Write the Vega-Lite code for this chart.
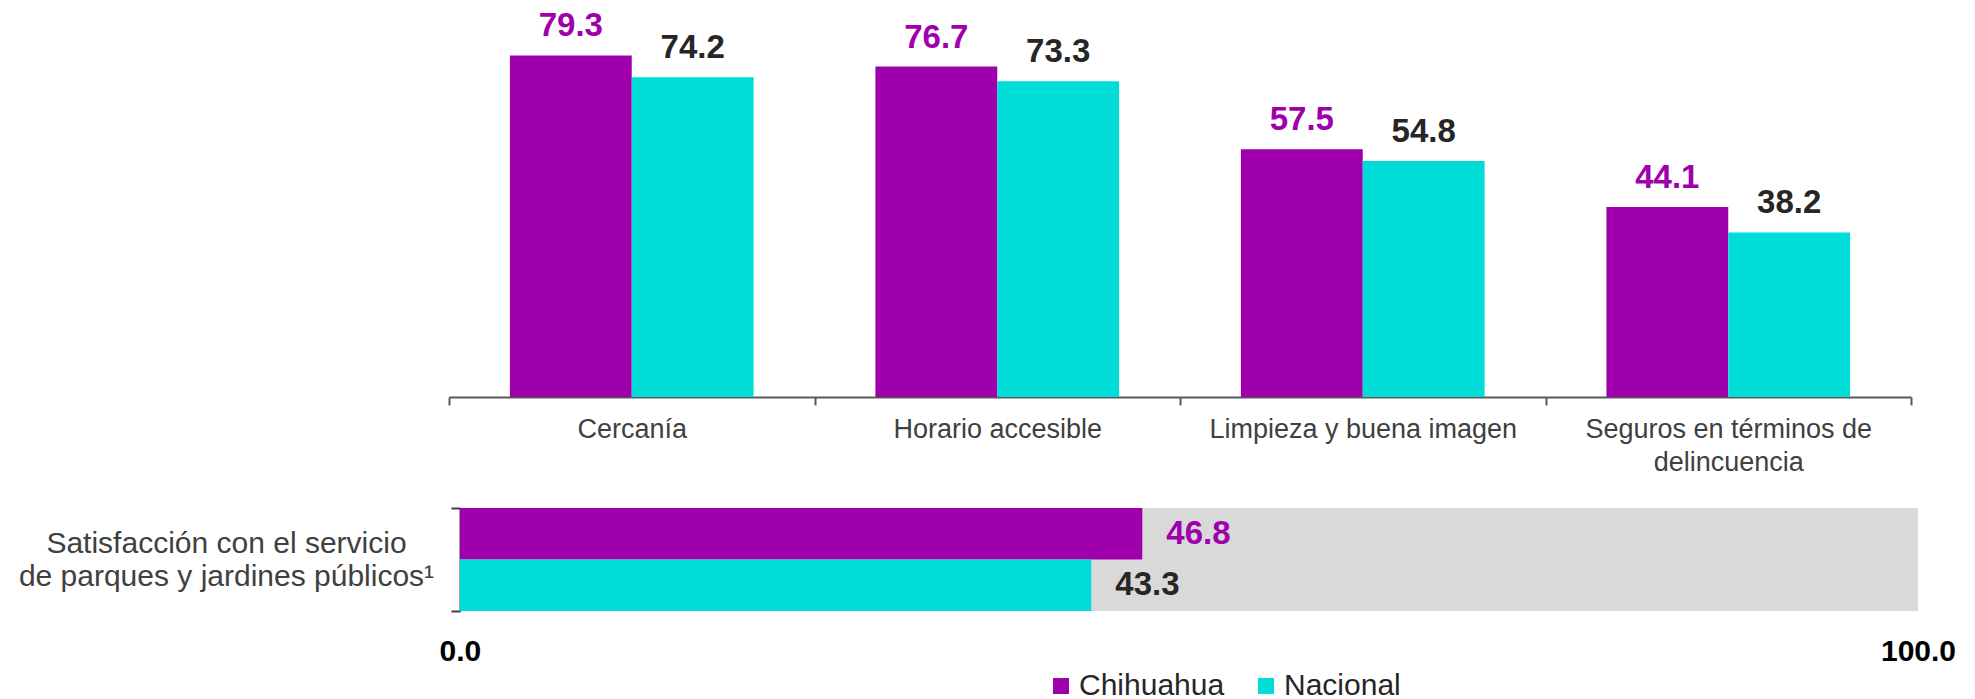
{
  "$schema": "https://vega.github.io/schema/vega-lite/v6.json",
  "padding": {"left": 18, "top": 5, "right": 5, "bottom": 0},
  "background": "white",
  "config": {"view": {"stroke": null}, "font": "Liberation Sans", "axis": {"grid": false}},
  "spacing": 32,
  "datasets": {
    "atributos": [
      {"atributo": "Cercanía", "serie": "Chihuahua", "valor": 79.3},
      {"atributo": "Cercanía", "serie": "Nacional", "valor": 74.2},
      {"atributo": "Horario accesible", "serie": "Chihuahua", "valor": 76.7},
      {"atributo": "Horario accesible", "serie": "Nacional", "valor": 73.3},
      {"atributo": "Limpieza y buena imagen", "serie": "Chihuahua", "valor": 57.5},
      {"atributo": "Limpieza y buena imagen", "serie": "Nacional", "valor": 54.8},
      {"atributo": "Seguros en términos de delincuencia", "serie": "Chihuahua", "valor": 44.1},
      {"atributo": "Seguros en términos de delincuencia", "serie": "Nacional", "valor": 38.2}
    ],
    "satisfaccion": [
      {"servicio": "Parques y jardines", "serie": "Chihuahua", "valor": 46.8},
      {"servicio": "Parques y jardines", "serie": "Nacional", "valor": 43.3}
    ],
    "fondo": [
      {"servicio": "Parques y jardines", "total": 100}
    ]
  },
  "vconcat": [
    {
      "width": 1462,
      "height": 392,
      "data": {"name": "atributos"},
      "encoding": {
        "x": {
          "field": "atributo", "type": "nominal",
          "sort": ["Cercanía", "Horario accesible", "Limpieza y buena imagen", "Seguros en términos de delincuencia"],
          "scale": {"paddingInner": 0, "paddingOuter": 0},
          "axis": {
            "title": null, "tickBand": "extent", "tickSize": 8, "tickColor": "#595959", "tickWidth": 2,
            "domainColor": "#595959", "domainWidth": 2, "labelAngle": 0, "labelFontSize": 27,
            "labelColor": "#404040", "labelPadding": 11, "labelLineHeight": 33, "labelLimit": 500,
            "labelExpr": "datum.value == 'Seguros en términos de delincuencia' ? ['Seguros en términos de', 'delincuencia'] : datum.value"
          }
        },
        "xOffset": {"field": "serie", "type": "nominal", "sort": ["Chihuahua", "Nacional"], "scale": {"paddingInner": 0, "paddingOuter": 0.5}},
        "y": {"field": "valor", "type": "quantitative", "scale": {"domain": [0, 91]}, "axis": null}
      },
      "layer": [
        {
          "mark": {"type": "bar"},
          "encoding": {
            "color": {
              "field": "serie", "type": "nominal",
              "scale": {"domain": ["Chihuahua", "Nacional"], "range": ["#A000AB", "#00DDD8"]},
              "legend": {
                "orient": "none", "legendX": 597, "legendY": 666, "direction": "horizontal", "title": null,
                "symbolType": "square", "symbolSize": 256, "symbolStrokeWidth": 0, "labelFontSize": 30,
                "labelColor": "#262626", "columnPadding": 26, "labelOffset": 3
              }
            }
          }
        },
        {
          "mark": {"type": "text", "dy": -19, "baseline": "alphabetic", "fontSize": 33, "fontWeight": "bold"},
          "encoding": {
            "text": {"field": "valor", "type": "quantitative", "format": ".1f"},
            "color": {"condition": {"test": "datum.serie == 'Chihuahua'", "value": "#A000AB"}, "value": "#262626"}
          }
        }
      ]
    },
    {
      "width": 1469,
      "height": 103,
      "layer": [
        {
          "data": {"name": "fondo"},
          "mark": {"type": "bar", "color": "#D9D9D9"},
          "encoding": {
            "y": {
              "field": "servicio", "type": "nominal",
              "scale": {"paddingInner": 0, "paddingOuter": 0},
              "axis": {
                "title": ["Satisfacción con el servicio", "de parques y jardines públicos¹"],
                "labels": false, "tickBand": "extent", "tickSize": 9, "tickWidth": 2, "tickColor": "#404040",
                "domainColor": "#404040", "domainWidth": 2, "offset": -11,
                "titleAngle": 0, "titleAlign": "center", "titleBaseline": "alphabetic",
                "titleX": -234, "titleY": 44, "titleFontSize": 30, "titleFontWeight": "normal",
                "titleColor": "#404040", "titleLineHeight": 33
              }
            },
            "x": {
              "field": "total", "type": "quantitative",
              "scale": {"domain": [-0.75, 100], "nice": false, "zero": false},
              "axis": {
                "values": [0, 100], "format": ".1f", "domain": false, "ticks": false, "tickSize": 0,
                "labelPadding": 25, "labelFontSize": 30, "labelFontWeight": "bold", "labelColor": "#000000",
                "title": null, "labelFlush": false
              }
            }
          }
        },
        {
          "data": {"name": "satisfaccion"},
          "mark": {"type": "bar"},
          "encoding": {
            "y": {"field": "servicio", "type": "nominal"},
            "yOffset": {"field": "serie", "type": "nominal", "sort": ["Chihuahua", "Nacional"], "scale": {"paddingInner": 0, "paddingOuter": 0}},
            "x": {"field": "valor", "type": "quantitative"},
            "color": {"field": "serie", "type": "nominal"}
          }
        },
        {
          "data": {"name": "satisfaccion"},
          "mark": {"type": "text", "align": "left", "dx": 24, "baseline": "middle", "fontSize": 33, "fontWeight": "bold"},
          "encoding": {
            "y": {"field": "servicio", "type": "nominal"},
            "yOffset": {"field": "serie", "type": "nominal", "sort": ["Chihuahua", "Nacional"]},
            "x": {"field": "valor", "type": "quantitative"},
            "text": {"field": "valor", "type": "quantitative", "format": ".1f"},
            "color": {"condition": {"test": "datum.serie == 'Chihuahua'", "value": "#A000AB"}, "value": "#262626"}
          }
        }
      ]
    }
  ]
}
